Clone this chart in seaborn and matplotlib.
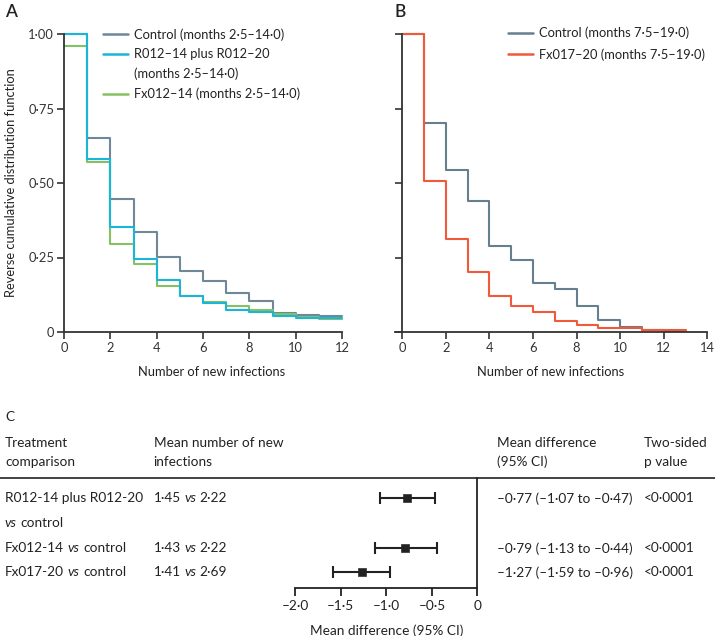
import matplotlib
matplotlib.use("Agg")
import matplotlib.pyplot as plt
import seaborn as sns
import pandas as pd
from matplotlib.lines import Line2D

# ---- data ----
CONTROL_A = "Control (months 2·5–14·0)"
R012 = "R012–14 plus R012–20"
FX012 = "Fx012–14 (months 2·5–14·0)"
CONTROL_B = "Control (months 7·5–19·0)"
FX017 = "Fx017–20 (months 7·5–19·0)"

# reverse CDF per number of new infections (value on [k, k+1))
control_a = [1.00, 0.650, 0.446, 0.337, 0.252, 0.206, 0.170, 0.130, 0.104, 0.064, 0.058, 0.054]
r012_a = [1.00, 0.581, 0.352, 0.244, 0.173, 0.122, 0.098, 0.075, 0.067, 0.055, 0.047, 0.046]
fx012_a = [0.960, 0.569, 0.296, 0.229, 0.156, 0.121, 0.101, 0.088, 0.075, 0.061, 0.050, 0.044]

control_b = [1.00, 0.700, 0.542, 0.440, 0.290, 0.243, 0.166, 0.145, 0.088, 0.039, 0.017, 0.008, 0.005]
fx017_b = [1.00, 0.508, 0.312, 0.200, 0.122, 0.086, 0.067, 0.036, 0.022, 0.012, 0.012, 0.007, 0.006]

# panel C
comparisons = ["R012-14 plus R012-20", "Fx012-14", "Fx017-20"]
mean_treat = ["1·45", "1·43", "1·41"]
mean_ctrl = ["2·22", "2·22", "2·69"]
diff = [-0.77, -0.79, -1.27]
ci_low = [-1.07, -1.13, -1.59]
ci_high = [-0.47, -0.44, -0.96]
diff_text = ["–0·77 (–1·07 to –0·47)", "–0·79 (–1·13 to –0·44)", "–1·27 (–1·59 to –0·96)"]
p_text = ["<0·0001", "<0·0001", "<0·0001"]
forest_ticks = [-2.0, -1.5, -1.0, -0.5, 0]
forest_labels = ["–2·0", "–1·5", "–1·0", "–0·5", "0"]

colors = {CONTROL_A: "#6f8796", R012: "#1bb5d8", FX012: "#84c163",
          CONTROL_B: "#667f8c", FX017: "#f0593a"}

W, H = 715, 636
def fx(px): return px / W
def fy(py): return 1 - py / H

sns.set_theme(style="ticks")
plt.rcParams["font.family"] = ["Lato", "DejaVu Sans"]
plt.rcParams["axes.edgecolor"] = "#333333"
plt.rcParams["text.color"] = "#222222"

fig = plt.figure(figsize=(W / 100, H / 100), dpi=100)
FS = 9.3      # panels A and B
FSC = 9.8     # panel C
TXT = "#222222"


def steps_frame(series):
    rows = []
    for name, vals in series:
        for k, v in enumerate(vals + vals[-1:]):
            rows.append({"group": name, "infections": k, "rcdf": v})
    return pd.DataFrame(rows)


def style_axis(ax):
    sns.despine(ax=ax)
    ax.tick_params(length=5, width=1.2, labelsize=FS, colors="#333333", pad=2)
    for s in ["left", "bottom"]:
        ax.spines[s].set_linewidth(1.3)
    ax.set_yticks([0, 0.25, 0.5, 0.75, 1.0])
    for l in ax.get_lines():
        l.set_clip_on(False)


# ---- panel A ----
ax_a = fig.add_axes([fx(64), fy(332), fx(342) - fx(64), fy(34) - fy(332)])
df_a = steps_frame([(CONTROL_A, control_a), (R012, r012_a), (FX012, fx012_a)])
sns.lineplot(data=df_a, x="infections", y="rcdf", hue="group",
             hue_order=[CONTROL_A, FX012, R012], palette=colors,
             drawstyle="steps-post", lw=1.5, legend=False, errorbar=None, ax=ax_a)
ax_a.set_xlim(0, 12)
ax_a.set_ylim(0, 1)
ax_a.set_xticks(range(0, 13, 2))
style_axis(ax_a)
ax_a.set_yticklabels(["0", "0·25", "0·50", "0·75", "1·00"])
ax_a.set_xlabel("Number of new infections", fontsize=FS, color=TXT)
ax_a.xaxis.set_label_coords(0.53, -0.115)
ax_a.set_ylabel("Reverse cumulative distribution function", fontsize=FS, color=TXT)
ax_a.yaxis.set_label_coords(-0.17, 0.5)

hs = [Line2D([], [], color=colors[CONTROL_A], lw=1.8),
      Line2D([], [], color=colors[R012], lw=1.8),
      Line2D([], [], color="none"),
      Line2D([], [], color=colors[FX012], lw=1.8)]
labs = [CONTROL_A, R012, "(months 2·5–14·0)", FX012]
ax_a.legend(hs, labs, loc="upper left", bbox_to_anchor=((103 - 64) / 278, 1.02),
            frameon=False, fontsize=FS, handlelength=1.95, handletextpad=0.45,
            labelspacing=0.58, borderpad=0, borderaxespad=0)
fig.text(fx(5), fy(12), "A", fontsize=12.5, fontweight="semibold", color=TXT,
         va="center", ha="left")

# ---- panel B ----
ax_b = fig.add_axes([fx(394.7), fy(332), fx(707.3) - fx(394.7), fy(34) - fy(332)])
df_b = steps_frame([(CONTROL_B, control_b), (FX017, fx017_b)])
sns.lineplot(data=df_b, x="infections", y="rcdf", hue="group",
             hue_order=[CONTROL_B, FX017], palette=colors,
             drawstyle="steps-post", lw=1.5, legend=False, errorbar=None, ax=ax_b)
ax_b.set_xlim(-0.35, 14)
ax_b.set_ylim(0, 1)
ax_b.set_xticks(range(0, 15, 2))
style_axis(ax_b)
ax_b.spines["left"].set_position(("data", 0))
ax_b.set_yticklabels([])
ax_b.set_ylabel("")
ax_b.set_xlabel("Number of new infections", fontsize=FS, color=TXT)
ax_b.xaxis.set_label_coords(0.5, -0.115)
hs = [Line2D([], [], color=colors[CONTROL_B], lw=1.8),
      Line2D([], [], color=colors[FX017], lw=1.8)]
ax_b.legend(hs, [CONTROL_B, FX017], loc="upper left",
            bbox_to_anchor=((508 - 394.7) / 312.6, 1.025),
            frameon=False, fontsize=FS, handlelength=1.95, handletextpad=0.45,
            labelspacing=0.7, borderpad=0, borderaxespad=0)
fig.text(fx(395), fy(12), "B", fontsize=12.5, fontweight="semibold", color=TXT,
         va="center", ha="left")

# ---- panel C ----
fig.text(fx(5), fy(417), "C", fontsize=FSC, color=TXT, va="center")
col_x = [5, 153.5, 497, 644]
heads = [("Treatment", "comparison"), ("Mean number of new", "infections"),
         ("Mean difference", "(95% CI)"), ("Two-sided", "p value")]
for x, (l1, l2) in zip(col_x, heads):
    fig.text(fx(x), fy(443), l1, fontsize=FSC, color=TXT, va="center")
    fig.text(fx(x), fy(462), l2, fontsize=FSC, color=TXT, va="center")
fig.add_artist(Line2D([0, 1], [fy(478.3), fy(478.3)], color="#222222", lw=1.2))

renderer = fig.canvas.get_renderer()


def runs(x, y, pieces):
    for s, st in pieces:
        t = fig.text(fx(x), fy(y), s, fontsize=FSC, color=TXT, style=st, va="center")
        x += t.get_window_extent(renderer).width + 3.5


row_y = [498.3, 548.3, 572.3]
runs(col_x[0], row_y[0], [(comparisons[0], "normal")])
runs(col_x[0], 523.3, [("vs", "italic"), ("control", "normal")])
for i in (1, 2):
    runs(col_x[0], row_y[i], [(comparisons[i], "normal"), ("vs", "italic"), ("control", "normal")])
for i in range(3):
    runs(col_x[1], row_y[i], [(mean_treat[i], "normal"), ("vs", "italic"), (mean_ctrl[i], "normal")])
    fig.text(fx(col_x[2]), fy(row_y[i]), diff_text[i], fontsize=FSC, color=TXT, va="center")
    fig.text(fx(col_x[3]), fy(row_y[i]), p_text[i], fontsize=FSC, color=TXT, va="center")

ax_c = fig.add_axes([fx(295.3), fy(587.7), fx(477.4) - fx(295.3), fy(478.3) - fy(587.7)])
df_c = pd.DataFrame({"diff": diff, "row": row_y})
ax_c.errorbar(diff, row_y, xerr=[[d - l for d, l in zip(diff, ci_low)],
                                 [h - d for d, h in zip(diff, ci_high)]],
              fmt="none", ecolor="#222222", elinewidth=1.5, capsize=4, capthick=1.5)
sns.scatterplot(data=df_c, x="diff", y="row", marker="s", s=30, color="#222222",
                edgecolor="#222222", zorder=3, ax=ax_c)
ax_c.set_xlim(-2.0, 0)
ax_c.set_ylim(587.7, 478.3)
for s in ["top", "left"]:
    ax_c.spines[s].set_visible(False)
for s in ["right", "bottom"]:
    ax_c.spines[s].set_linewidth(1.3)
    ax_c.spines[s].set_color("#222222")
ax_c.set_yticks([])
ax_c.set_xticks(forest_ticks)
ax_c.set_xticklabels(forest_labels)
ax_c.tick_params(axis="x", length=6, width=1.3, labelsize=FSC, colors="#222222", pad=3)
ax_c.set_ylabel("")
ax_c.set_xlabel("Mean difference (95% CI)", fontsize=FSC, color=TXT, labelpad=9)

fig.savefig("out.png", dpi=100)
